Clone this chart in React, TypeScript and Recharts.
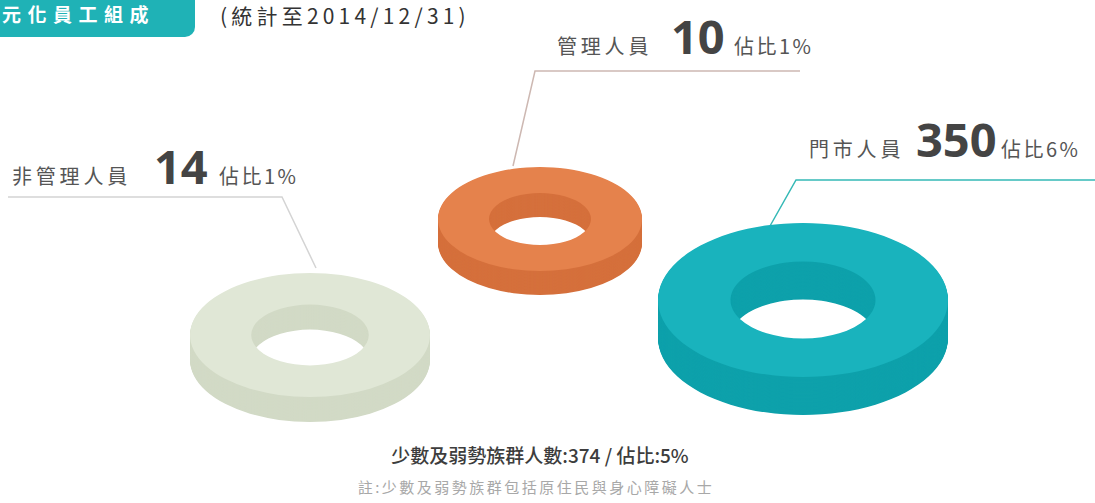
import { Cell, Pie, PieChart } from "recharts";

const groups = ["非管理人員", "管理人員", "門市人員"];
const counts = [14, 10, 350];
const shares = ["1%", "1%", "6%"];
const minorityCount = 374;
const minorityShare = "5%";

const FONT = "'Noto Sans CJK TC', 'Noto Sans', sans-serif";

// ring geometry + label placement, one per group
const rings = [
  { cx: 310, cy: 335, rx: 120, ry: 62, depth: 25, hole: 0.49, face: "#e0e7d6", side: "#d2dac6" },
  { cx: 540, cy: 219, rx: 102, ry: 52, depth: 24, hole: 0.5, face: "#e5824c", side: "#d5703c" },
  { cx: 803, cy: 300, rx: 145, ry: 77, depth: 38, hole: 0.5, face: "#19b3bd", side: "#0ea1ab" },
];

const labels = [
  { x: 12, y: 184, numX: 154, pctX: 219, line: "M8 197 L282 197 L316 268", lineColor: "#d4d4d4" },
  { x: 557, y: 54, numX: 671, pctX: 734, line: "M800 71 L535 71 L513 166", lineColor: "#cdb8b2" },
  { x: 809, y: 157, numX: 916, pctX: 1001, line: "M1095 180 L796 180 L770 226", lineColor: "#35b9b6" },
];

function Ring({ idx }: { idx: number }) {
  const r = rings[idx];
  const k = r.ry / r.rx;
  const d = r.depth / k;
  const w = r.rx * 2;
  const h = r.rx * 2 + d + 2;
  const steps = Math.ceil(d / 1.5);
  const offs = Array.from({ length: steps + 1 }, (_, i) => d - (d * i) / steps);
  const data = [{ name: groups[idx], value: counts[idx] }];
  return (
    <div style={{ position: "absolute", left: r.cx - r.rx, top: r.cy - r.ry, width: w, height: h * k }}>
      <div style={{ transform: `scaleY(${k})`, transformOrigin: "0 0", width: w, height: h }}>
        <PieChart width={w} height={h} margin={{ top: 0, right: 0, bottom: 0, left: 0 }}>
          {offs.map((off, i) => (
            <Pie
              key={i}
              data={data}
              dataKey="value"
              cx={r.rx}
              cy={r.rx + off}
              innerRadius={r.rx * r.hole}
              outerRadius={r.rx}
              startAngle={90}
              endAngle={-270}
              stroke="none"
              isAnimationActive={false}
            >
              <Cell fill={i === offs.length - 1 ? r.face : r.side} />
            </Pie>
          ))}
        </PieChart>
      </div>
    </div>
  );
}

export default function App() {
  return (
    <div style={{ position: "relative", width: 1095, height: 503, background: "#fff", overflow: "hidden", fontFamily: FONT }}>
      <style>{"body{margin:0}"}</style>
      <svg width={1095} height={503} style={{ position: "absolute", left: 0, top: 0 }}>
        <rect x={-12} y={-12} width={207} height={49} rx={10} fill="#1fb2b6" />
        <text x={2} y={22} fontSize={19} fontWeight={700} fill="#fff" letterSpacing={6.5} fontFamily={FONT}>
          元化員工組成
        </text>
        <text x={220} y={24} fontSize={21} fill="#333" letterSpacing={4.2} fontFamily={FONT}>
          (統計至2014/12/31)
        </text>

        {labels.map((l, i) => (
          <g key={i}>
            <path d={l.line} fill="none" stroke={l.lineColor} strokeWidth={1.5} />
            <text x={l.x} y={l.y} fontSize={20} fill="#555" letterSpacing={3.8} fontFamily={FONT}>
              {groups[i]}
            </text>
            <text x={l.numX} y={l.y} fontSize={47} fontWeight={700} fill="#444" fontFamily="'Open Sans', 'Noto Sans', sans-serif">
              {counts[i]}
            </text>
            <text x={l.pctX} y={l.y} fontSize={20} fill="#555" letterSpacing={2.5} fontFamily={FONT}>
              {`佔比${shares[i]}`}
            </text>
          </g>
        ))}

        <text x={540} y={463} textAnchor="middle" fontSize={19} fill="#3d3d3d" fontWeight={500} fontFamily={FONT}>
          {`少數及弱勢族群人數:${minorityCount} / 佔比:${minorityShare}`}
        </text>
        <text x={536} y={493} textAnchor="middle" fontSize={15} fill="#a8a8a8" letterSpacing={2.5} fontFamily={FONT}>
          註:少數及弱勢族群包括原住民與身心障礙人士
        </text>
      </svg>
      {rings.map((_, i) => (
        <Ring key={i} idx={i} />
      ))}
    </div>
  );
}
